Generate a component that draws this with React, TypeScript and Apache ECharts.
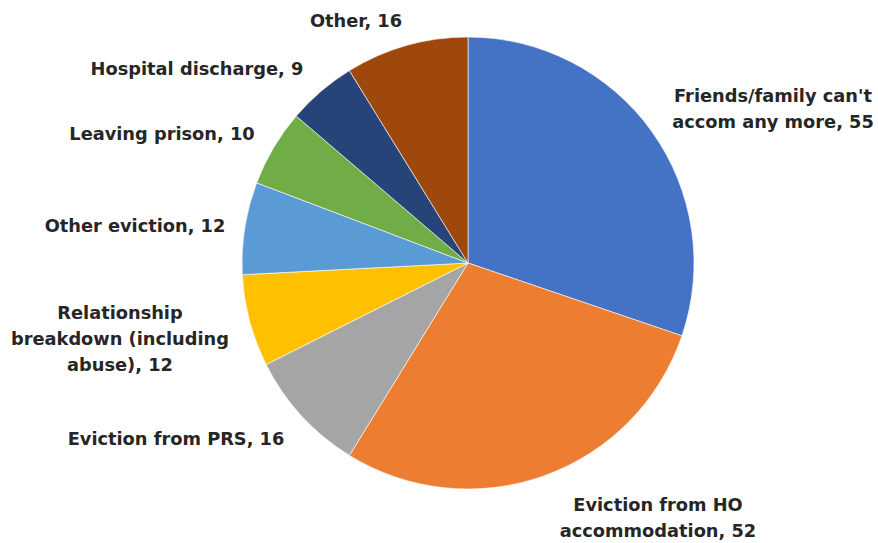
import React, { useEffect, useRef } from "react";
import * as echarts from "echarts";

const categories = [
  "Friends/family can't\naccom any more",
  "Eviction from HO\naccommodation",
  "Eviction from PRS",
  "Relationship\nbreakdown (including\nabuse)",
  "Other eviction",
  "Leaving prison",
  "Hospital discharge",
  "Other",
];
const values = [55, 52, 16, 12, 12, 10, 9, 16];
const colors = ["#4472C4", "#ED7D31", "#A5A5A5", "#FFC000", "#5B9BD5", "#70AD47", "#264478", "#9E480E"];

// label anchor positions (text centres) in px
const labelPos: [number, number][] = [
  [773, 108],
  [658, 517],
  [176, 438],
  [120, 338],
  [135, 225],
  [162, 133],
  [197, 68],
  [356, 20],
];

export default function App() {
  const ref = useRef<HTMLDivElement>(null);
  useEffect(() => {
    if (!ref.current) return;
    const chart = echarts.init(ref.current, undefined, { renderer: "svg" });
    chart.setOption({
      animation: false,
      backgroundColor: "#ffffff",
      series: [
        {
          type: "pie",
          center: [468, 263],
          radius: 226,
          startAngle: 90,
          clockwise: true,
          avoidLabelOverlap: false,
          itemStyle: { borderColor: "#ffffff", borderWidth: 0.6 },
          label: {
            show: true,
            formatter: (p: any) => `${p.name}, ${p.value}`,
            fontFamily: "DejaVu Sans",
            fontWeight: "bold",
            fontSize: 17.8,
            lineHeight: 26,
            color: "#262626",
            align: "center",
          },
          labelLine: { show: false },
          labelLayout: (params: any) => {
            const p = labelPos[params.dataIndex];
            return { x: p[0], y: p[1], align: "center", verticalAlign: "middle" };
          },
          data: categories.map((c, i) => ({
            name: c,
            value: values[i],
            itemStyle: { color: colors[i] },
          })),
        },
      ],
    });
    return () => chart.dispose();
  }, []);
  return (
    <div
      ref={ref}
      style={{ position: "fixed", left: 0, top: 0, width: 878, height: 543 }}
    />
  );
}
